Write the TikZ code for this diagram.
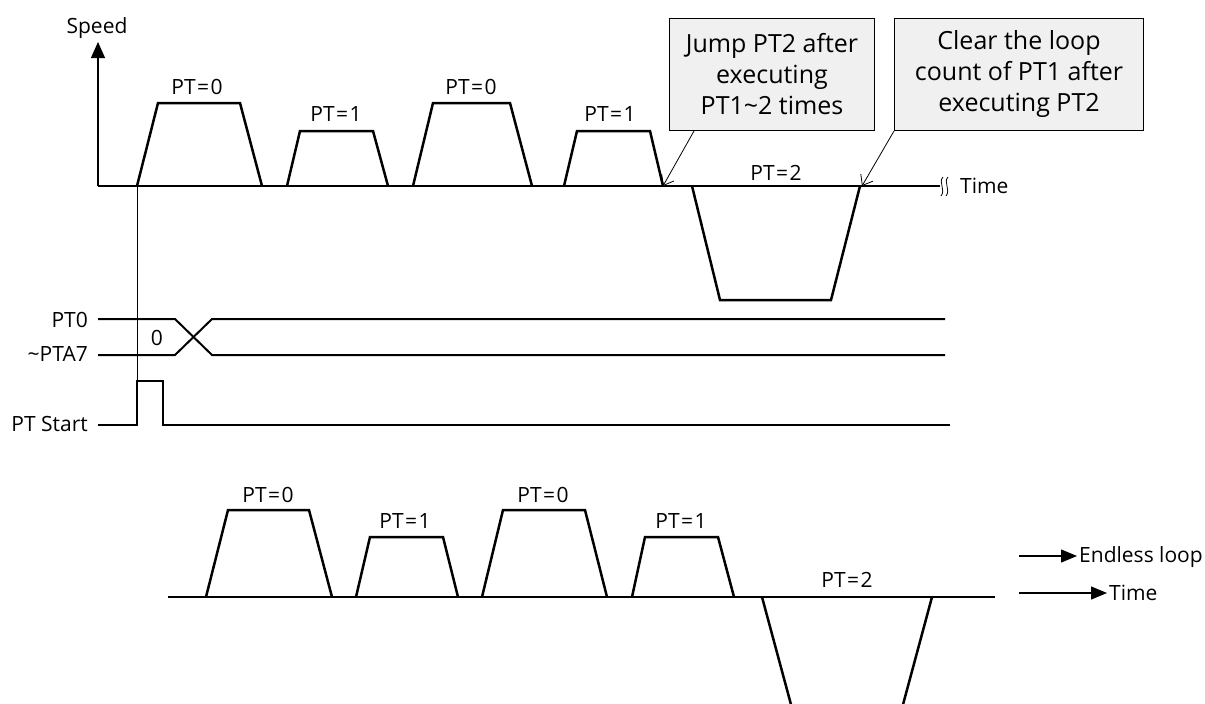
\documentclass[tikz,border=0pt]{standalone}
\usepackage{fontspec}
\setmainfont{Open Sans}
\usetikzlibrary{arrows.meta}
\newcommand{\pteq}[1]{PT\kern1.5pt=\kern1.5pt#1}
\begin{document}
\begin{tikzpicture}[x=1pt,y=-1pt,
  lbl/.style={font=\fontsize{21}{24}\selectfont, inner sep=0pt},
  call/.style={draw, line width=1pt, fill=gray!12, align=center, inner sep=0pt,
    font=\fontsize{25}{31}\selectfont, anchor=north west},
  trap/.style={line width=2.5pt, line join=miter},
  sig/.style={line width=2pt},
  axis/.style={line width=1.3pt},
  callarrow/.style={line width=0.8pt, -{Straight Barb[length=9pt,width=14pt]}},
  legarrow/.style={line width=1.2pt, -{Triangle[length=16pt,width=13pt]}}]
\useasboundingbox (0,0) rectangle (1205,704);

% ---------- top speed diagram ----------
\coordinate (o) at (98,186);
\coordinate (ytop) at (98,42);
\coordinate (xend) at (940,186);
\draw[axis, -{Triangle[length=16pt,width=14pt]}] (o) -- (ytop);
\draw[axis] (o) -- (xend);
\draw[line width=0.8pt] (943,177) .. controls (938,182) and (946,190) .. (941,196);
\draw[line width=0.8pt] (948,177) .. controls (943,182) and (951,190) .. (946,196);
\node[lbl] (speed) at (97,28) {Speed};
\node[lbl, anchor=west] (time1) at (960,186) {Time};

\draw[trap] (137,186) -- (158,103) -- (240,103) -- (262,186);
\draw[trap] (287,186) -- (300,131) -- (373,131) -- (388,186);
\draw[trap] (413,186) -- (433,103) -- (510,103) -- (532,186);
\draw[trap] (564,186) -- (577,131) -- (650,131) -- (663,186);
\draw[trap] (692,186) -- (720,300) -- (831,300) -- (860,186);
\node[lbl] (t1) at (197,87) {\pteq{0}};
\node[lbl] (t2) at (336,114) {\pteq{1}};
\node[lbl] (t3) at (471,87) {\pteq{0}};
\node[lbl] (t4) at (610,114) {\pteq{1}};
\node[lbl] (t5) at (776,173) {\pteq{2}};

\node[call, minimum width=205pt, minimum height=112pt] (c1) at (669,18)
  {Jump PT2 after\\executing\\PT1\textasciitilde 2 times};
\node[call, minimum width=249pt, minimum height=112pt] (c2) at (894,18)
  {Clear the loop\\count of PT1 after\\executing PT2};
\coordinate (j1) at (663,186);
\coordinate (j2) at (862,186);
\draw[callarrow] ([xshift=25pt]c1.south west) -- (j1);
\draw[callarrow] (c2.south west) -- (j2);

% ---------- signals ----------
\coordinate (v0) at (137,186);
\coordinate (v1) at (137,425);
\draw[line width=0.9pt] (v0) -- (v1);
\draw[sig] (98,319) -- (175,319) -- (212,355) -- (945,355);
\draw[sig] (98,355) -- (175,355) -- (212,319) -- (945,319);
\draw[sig] (98,425) -- (137,425) -- (137,381) -- (163,381) -- (163,425) -- (950,425);
\node[lbl, anchor=east] (s1) at (88,320) {PT0};
\node[lbl, anchor=east] (s2) at (88,354) {\textasciitilde PTA7};
\node[lbl, anchor=east] (s3) at (88,424) {PT Start};
\node[lbl] (s0) at (157,338) {0};

% ---------- bottom diagram ----------
\coordinate (b0) at (168,597);
\coordinate (b1) at (995,597);
\draw[axis] (b0) -- (b1);
\draw[trap] (206,597) -- (228,510) -- (309,510) -- (332,597);
\draw[trap] (356,597) -- (370,537) -- (443,537) -- (458,597);
\draw[trap] (482,597) -- (503,510) -- (585,510) -- (607,597);
\draw[trap] (632,597) -- (645,537) -- (718,537) -- (734,597);
\draw[trap] (762,597) -- (793,712) -- (901,712) -- (932,597);
\node[lbl] (u1) at (268,495) {\pteq{0}};
\node[lbl] (u2) at (405,521) {\pteq{1}};
\node[lbl] (u3) at (543,495) {\pteq{0}};
\node[lbl] (u4) at (681,521) {\pteq{1}};
\node[lbl] (u5) at (847,580) {\pteq{2}};

% legend
\coordinate (l1a) at (1019,556);
\coordinate (l1b) at (1077,556);
\coordinate (l2a) at (1019,593);
\coordinate (l2b) at (1107,593);
\draw[legarrow] (l1a) -- (l1b);
\draw[legarrow] (l2a) -- (l2b);
\node[lbl, anchor=west] (e1) at (1079,557) {Endless loop};
\node[lbl, anchor=west] (e2) at (1109,593) {Time};
\end{tikzpicture}
\end{document}
